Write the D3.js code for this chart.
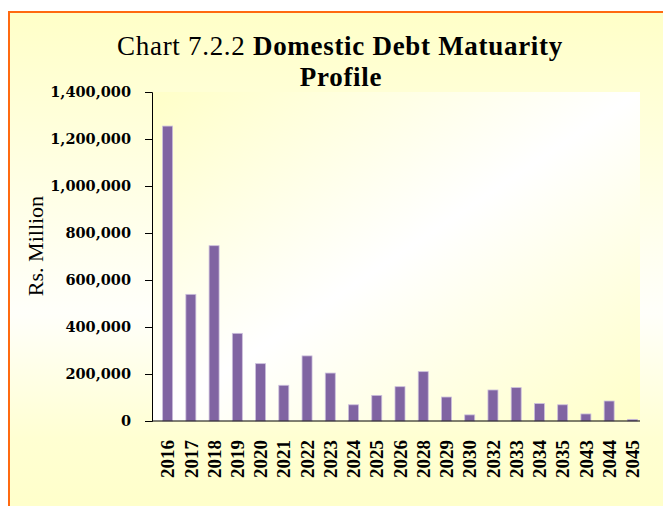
<!DOCTYPE html>
<html>
<head>
<meta charset="utf-8">
<script src="https://cdn.jsdelivr.net/npm/d3@7"></script>
<style>
  html, body { margin: 0; padding: 0; background: #fff; }
  svg { display: block; }
</style>
</head>
<body>
<div id="chart"></div>
<script>
// maturity years and amounts (Rs. Million)
const years = ["2016", "2017", "2018", "2019", "2020", "2021", "2022", "2023", "2024", "2025", "2026",
  "2028", "2029", "2030", "2032", "2033", "2034", "2035", "2043", "2044", "2045"];
const amounts = [1255000, 539000, 746000, 373000, 244000, 152000, 277000, 204000, 69000, 109000, 146000,
  210000, 102000, 26000, 132000, 142000, 74000, 69000, 30000, 85000, 7000];
const yTicks = [0, 200000, 400000, 600000, 800000, 1000000, 1200000, 1400000];

const width = 663
const height = 506
const plot = {left: 152, right: 640, top: 92, bottom: 421}

const svg = d3.select("#chart")
  .append("svg")
  .attr("width", width)
  .attr("height", height);

const defs = svg.append("defs");

// outer chart area: yellow top and bottom, white in the middle
const outerGrad = defs.append("linearGradient")
  .attr("id", "outerGrad")
  .attr("x1", 0).attr("y1", 0).attr("x2", 0).attr("y2", 1);
outerGrad.append("stop").attr("offset", "0%").attr("stop-color", "#ffffc8");
outerGrad.append("stop").attr("offset", "58%").attr("stop-color", "#fffffa");
outerGrad.append("stop").attr("offset", "82%").attr("stop-color", "#ffffd2");
outerGrad.append("stop").attr("offset", "100%").attr("stop-color", "#ffffc8");

// plot area: diagonal yellow -> white -> yellow
const plotGrad = defs.append("linearGradient")
  .attr("id", "plotGrad")
  .attr("x1", 0).attr("y1", 0).attr("x2", 1).attr("y2", 1);
plotGrad.append("stop").attr("offset", "0%").attr("stop-color", "#ffffc8");
plotGrad.append("stop").attr("offset", "50%").attr("stop-color", "#ffffff");
plotGrad.append("stop").attr("offset", "100%").attr("stop-color", "#ffffc8");

svg.append("rect")
  .attr("x", 9).attr("y", 12)
  .attr("width", 670).attr("height", 520)
  .attr("fill", "url(#outerGrad)")
  .attr("stroke", "#ff6a10")
  .attr("stroke-width", 2);

svg.append("rect")
  .attr("x", plot.left).attr("y", plot.top)
  .attr("width", plot.right - plot.left).attr("height", plot.bottom - plot.top)
  .attr("fill", "url(#plotGrad)");

// Construct scales.
const x = d3.scaleBand()
  .domain(years)
  .range([156, 644])
  .paddingInner(0.57)
  .paddingOuter(0.285);

const y = d3.scaleLinear()
  .domain([0, 1400000])
  .range([plot.bottom, plot.top]);

// bars
svg.append("g")
  .selectAll("rect")
  .data(years)
  .join("rect")
  .attr("x", (d, i) => x(d))
  .attr("y", (d, i) => y(amounts[i]))
  .attr("width", x.bandwidth())
  .attr("height", (d, i) => y(0) - y(amounts[i]))
  .attr("fill", "#8064a2")
  .attr("stroke", "#cbbfdc")
  .attr("stroke-width", 0.8);

// y axis
const yAxis = svg.append("g")
  .attr("transform", `translate(${plot.left},0)`)
  .call(d3.axisLeft(y).tickValues(yTicks).tickSize(7).tickPadding(14).tickFormat(d3.format(",")));
yAxis.select(".domain").attr("stroke", "#000");
yAxis.selectAll(".tick line").attr("stroke", "#000");
yAxis.selectAll("text")
  .attr("font-family", "DejaVu Serif")
  .attr("font-weight", "bold")
  .attr("font-size", 14.5)
  .attr("fill", "#000");

// x axis baseline
svg.append("line")
  .attr("x1", plot.left).attr("x2", plot.right)
  .attr("y1", plot.bottom).attr("y2", plot.bottom)
  .attr("stroke", "#000");

// x tick labels, rotated
svg.append("g")
  .attr("font-family", "Liberation Serif")
  .attr("font-weight", "bold")
  .attr("font-size", 19)
  .attr("text-anchor", "end")
  .selectAll("text")
  .data(years)
  .join("text")
  .attr("transform", d => `translate(${x(d) + x.bandwidth() / 2},440) rotate(-90)`)
  .attr("dy", "0.35em")
  .text(d => d);

// y axis title
svg.append("text")
  .attr("transform", "translate(43,246) rotate(-90)")
  .attr("text-anchor", "middle")
  .attr("font-family", "Liberation Serif")
  .attr("font-size", 22)
  .text("Rs. Million");

// chart title
const title = svg.append("text")
  .attr("x", 340)
  .attr("y", 55)
  .attr("text-anchor", "middle")
  .attr("font-family", "Liberation Serif")
  .attr("font-size", 27)
  .attr("letter-spacing", 0.7);
title.append("tspan").text("Chart 7.2.2 ");
title.append("tspan").attr("font-weight", "bold").text("Domestic Debt Matuarity");

svg.append("text")
  .attr("x", 341)
  .attr("y", 86)
  .attr("text-anchor", "middle")
  .attr("font-family", "Liberation Serif")
  .attr("font-weight", "bold")
  .attr("font-size", 27)
  .attr("letter-spacing", 0.7)
  .text("Profile");
</script>
</body>
</html>
